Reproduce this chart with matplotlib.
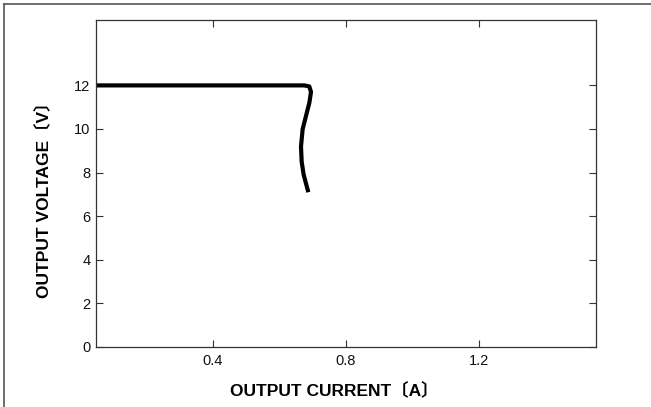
import matplotlib
matplotlib.use("Agg")
import matplotlib.pyplot as plt
from matplotlib.lines import Line2D

# Data
current_a = [0.05, 0.30, 0.60, 0.675, 0.690, 0.695, 0.690, 0.680, 0.670, 0.665, 0.667, 0.673, 0.680, 0.687]
voltage_v = [12.0, 12.0, 12.0, 12.0, 11.95, 11.7, 11.2, 10.6, 10.0, 9.2, 8.5, 7.9, 7.5, 7.1]

x_ticks = [0.4, 0.8, 1.2]
x_tick_labels = ["0.4", "0.8", "1.2"]
y_ticks = [0, 2, 4, 6, 8, 10, 12]
y_tick_labels = ["0", "2", "4", "6", "8", "10", "12"]

x_label = "OUTPUT CURRENT〔A〕"
y_label = "OUTPUT VOLTAGE〔V〕"

W, H = 651, 407
fig = plt.figure(figsize=(W / 100, H / 100), dpi=100)
ax = fig.add_axes([96 / W, (H - 347) / H, 500 / W, 327 / H])

ax.plot(current_a, voltage_v, color="black", lw=3.0, solid_capstyle="butt", solid_joinstyle="round")

ax.set_xlim(0.05, 1.55)
ax.set_ylim(0, 15)
ax.set_xticks(x_ticks)
ax.set_xticklabels(x_tick_labels)
ax.set_yticks(y_ticks)
ax.set_yticklabels(y_tick_labels)
ax.tick_params(direction="in", length=5, width=0.8, color="#333333",
               top=True, right=True, labelsize=10.5, labelcolor="#111111")
ax.tick_params(axis="x", pad=5)
ax.tick_params(axis="y", pad=4)
for lab in ax.get_xticklabels() + ax.get_yticklabels():
    lab.set_family(["Liberation Sans", "DejaVu Sans"])
for s in ax.spines.values():
    s.set_linewidth(0.9)
    s.set_color("#333333")

fam = ["Liberation Sans", "Noto Sans CJK JP", "DejaVu Sans"]
fig.text(334 / W, 1 - 390 / H, x_label, ha="center", va="center",
         fontsize=12.5, fontweight="bold", family=fam)
fig.text(43 / W, 1 - 196 / H, y_label, ha="center", va="center", rotation=90,
         fontsize=12.5, fontweight="bold", family=fam)

# outer frame (top and left edges visible)
fig.add_artist(Line2D([4 / W, 1.0], [1 - 4 / H, 1 - 4 / H], transform=fig.transFigure,
                      color="#555555", lw=1.2))
fig.add_artist(Line2D([4 / W, 4 / W], [0.0, 1 - 4 / H], transform=fig.transFigure,
                      color="#555555", lw=1.2))

fig.savefig("out.png", dpi=100)
